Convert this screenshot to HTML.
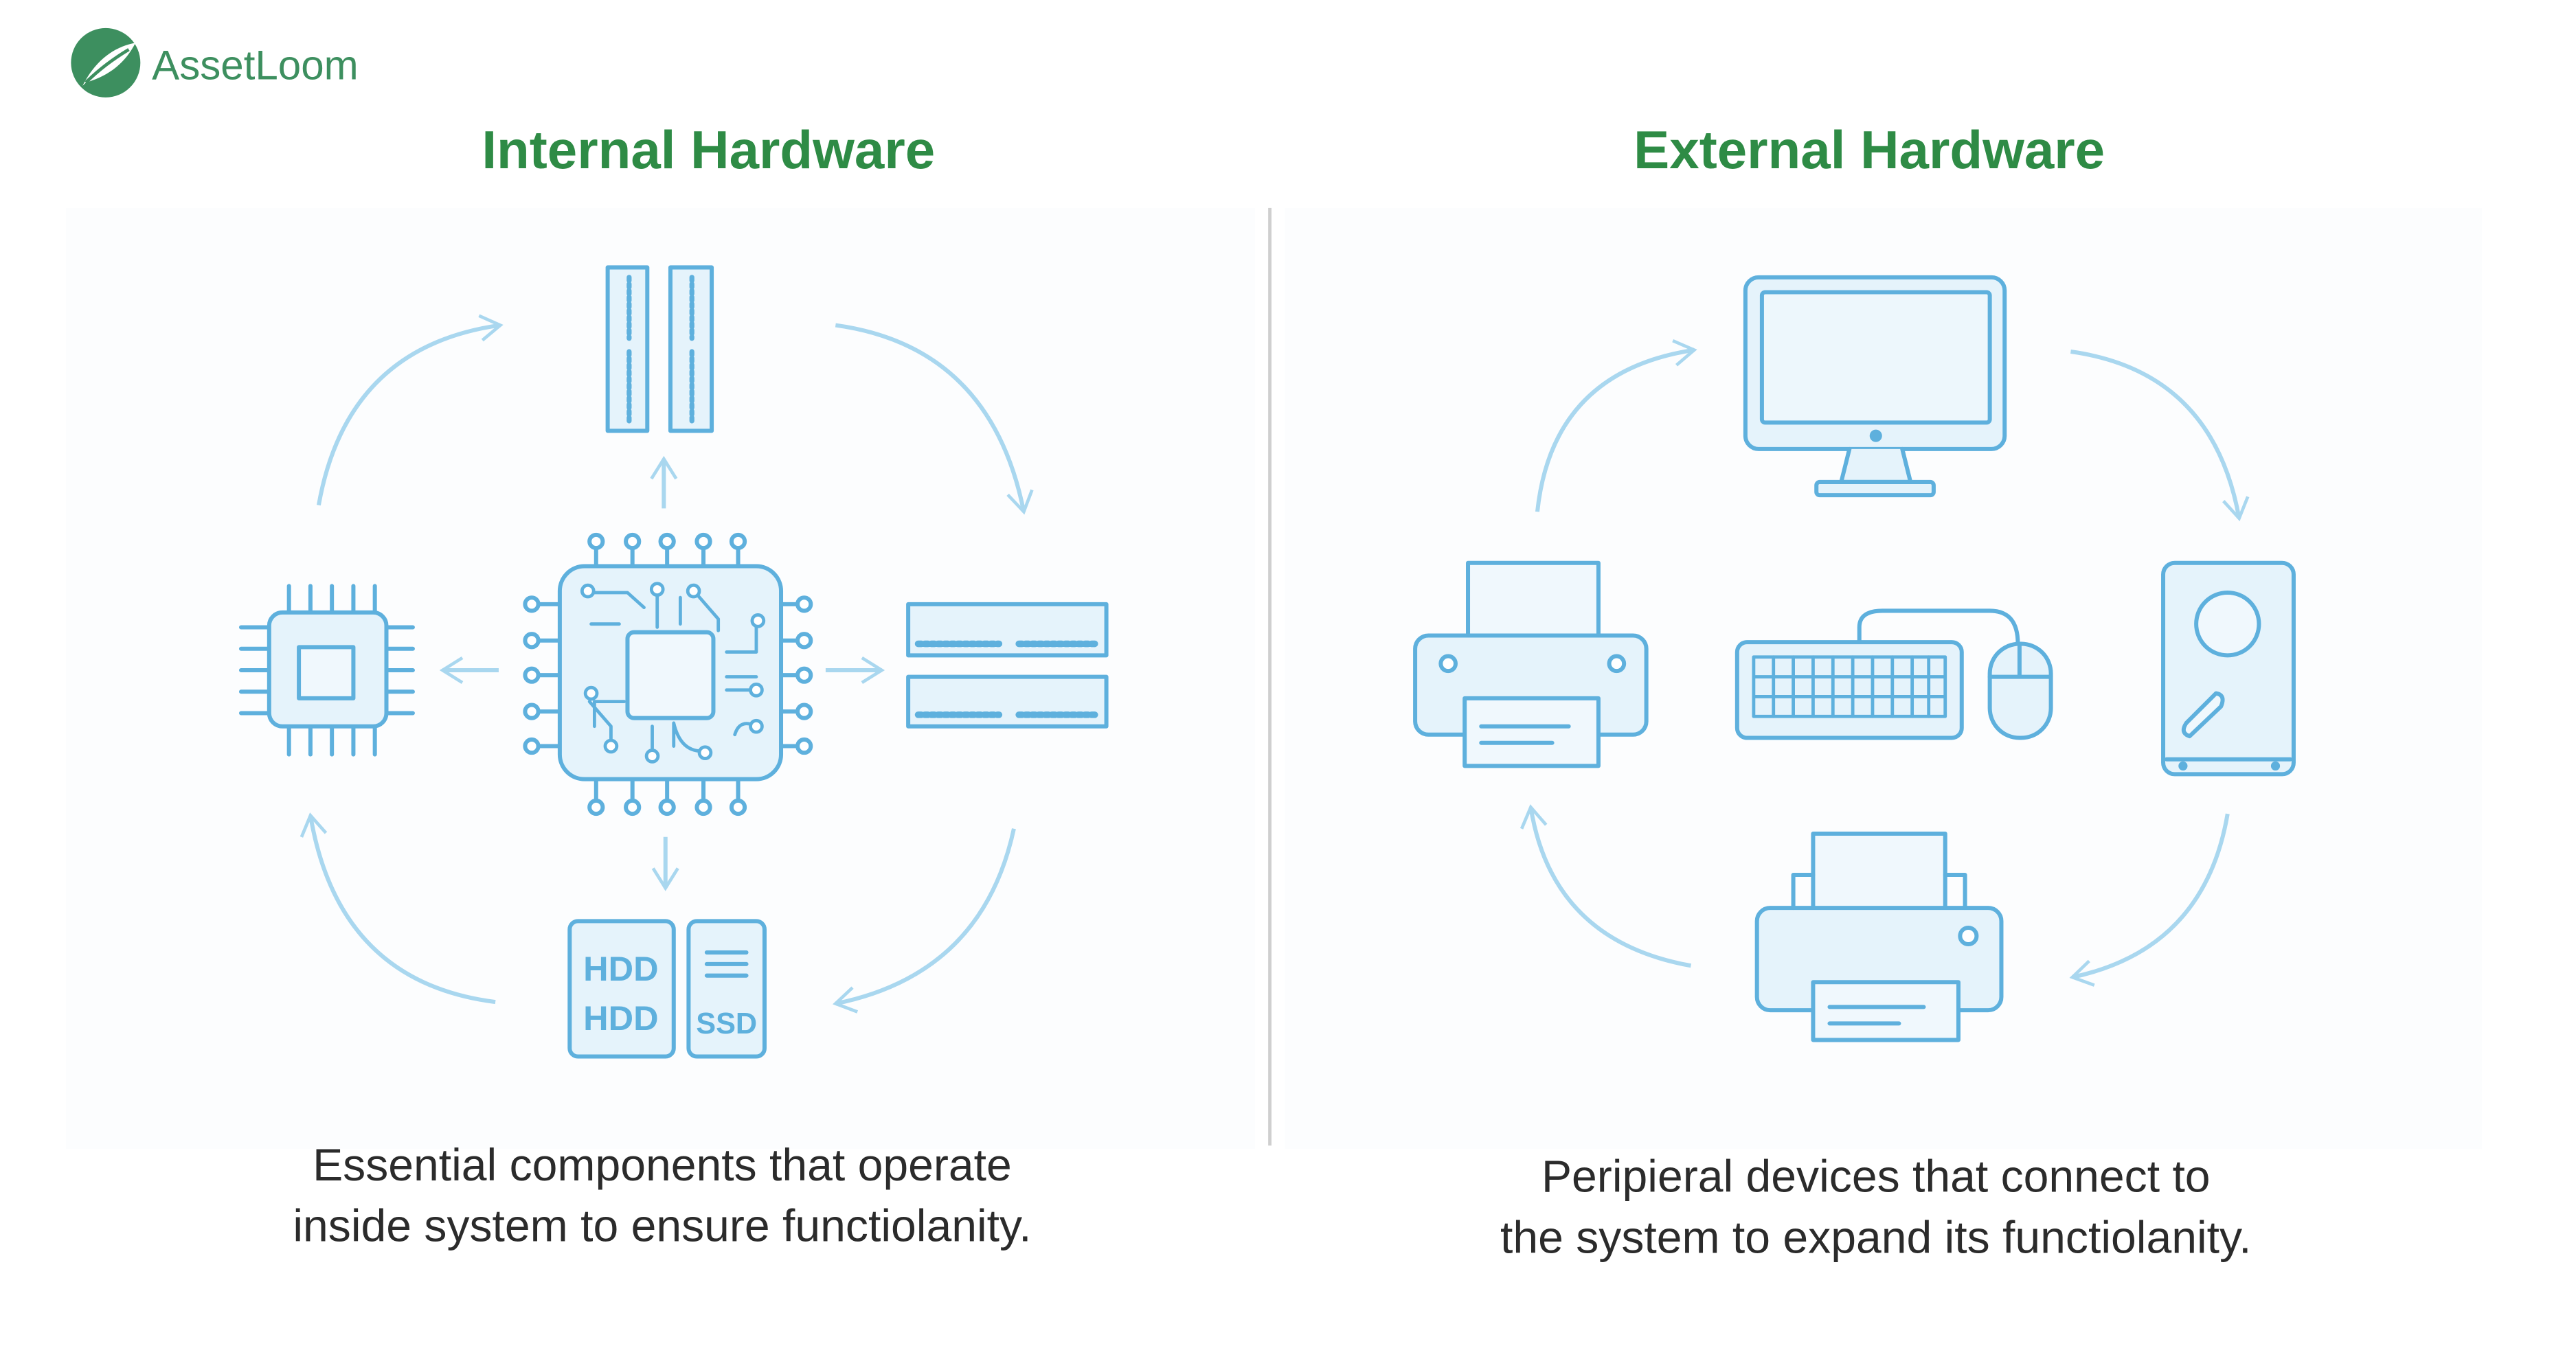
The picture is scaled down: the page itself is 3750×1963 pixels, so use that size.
<!DOCTYPE html>
<html><head><meta charset="utf-8"><style>
html,body{margin:0;padding:0;background:#fff;}
svg{display:block;}
text{font-family:"Liberation Sans",sans-serif;}
</style></head><body>
<svg width="3750" height="1963" viewBox="0 0 1560 816.6" xmlns="http://www.w3.org/2000/svg">
<defs>
<marker id="ah2" viewBox="0 0 12 12" refX="10" refY="6" markerWidth="18" markerHeight="18" orient="auto" markerUnits="userSpaceOnUse">
<path d="M2,1 L10,6 L2,11" fill="none" stroke="#a9d7ef" stroke-width="1.3"/></marker>
</defs>
<rect width="1560" height="817" fill="#fff"/>
<rect x="40" y="126" width="720" height="570" fill="#fcfdfe"/>
<rect x="778" y="126" width="725" height="570" fill="#fcfdfe"/>
<!-- logo -->
<circle cx="64" cy="38" r="21" fill="#3d8f5f"/>
<path d="M50,52 C58,36 70,28 82,26 C76,38 66,46 52,50" fill="#fff"/>
<path d="M52,50 C60,42 68,36 78,30" stroke="#3d8f5f" stroke-width="2" fill="none"/>
<text x="92" y="48" font-size="25" fill="#3d8f5f">AssetLoom</text>
<!-- titles -->
<text x="429" y="102" font-size="32.5" font-weight="bold" fill="#2e8b45" text-anchor="middle">Internal Hardware</text>
<text x="1132" y="102" font-size="32.5" font-weight="bold" fill="#2e8b45" text-anchor="middle">External Hardware</text>
<line x1="769" y1="126" x2="769" y2="694" stroke="#cfcfcf" stroke-width="2"/>
<!-- captions -->
<g font-size="27.5" fill="#2b2b2b" text-anchor="middle">
<text x="401" y="715">Essential components that operate</text>
<text x="401" y="752">inside system to ensure functiolanity.</text>
<text x="1136" y="722">Peripieral devices that connect to</text>
<text x="1136" y="759">the system to expand its functiolanity.</text>
</g>
<!-- curved arrows -->
<g fill="none" stroke="#a9d7ef" stroke-width="2.5" marker-end="url(#ah2)">
<path d="M193,306 Q210,210 303,197"/>
<path d="M506,197 Q600,210 620,310"/>
<path d="M614,502 Q595,590 506,608"/>
<path d="M300,607 Q205,595 188,494"/>
<path d="M931,310 Q940,225 1026,212"/>
<path d="M1254,213 Q1340,225 1356,314"/>
<path d="M1349,493 Q1335,575 1255,592"/>
<path d="M1024,585 Q940,570 927,489"/>
<path d="M402,308 L402,278"/>
<path d="M302,406 L268,406"/>
<path d="M500,406 L534,406"/>
<path d="M403,507 L403,538"/>
</g>
<g fill="#e5f3fb" stroke="#5eb0dd" stroke-width="2.5" stroke-linejoin="round" stroke-linecap="round">
<rect x="368" y="162" width="24" height="99"/><rect x="406" y="162" width="25" height="99"/>
<path d="M381,168 V205 M381,213 V255 M419,168 V205 M419,213 V255" stroke-dasharray="2 2" stroke-width="3"/>
<g fill="none">
<path d="M361,343V330 M383,343V330 M404,343V330 M426,343V330 M447,343V330"/>
<path d="M361,472V486 M383,472V486 M404,472V486 M426,472V486 M447,472V486"/>
<path d="M339,366H325 M339,388H325 M339,409H325 M339,431H325 M339,452H325"/>
<path d="M473,366H484 M473,388H484 M473,409H484 M473,431H484 M473,452H484"/>
</g>
<g fill="#fff">
<circle cx="361" cy="328" r="4"/><circle cx="383" cy="328" r="4"/><circle cx="404" cy="328" r="4"/><circle cx="426" cy="328" r="4"/><circle cx="447" cy="328" r="4"/>
<circle cx="361" cy="489" r="4"/><circle cx="383" cy="489" r="4"/><circle cx="404" cy="489" r="4"/><circle cx="426" cy="489" r="4"/><circle cx="447" cy="489" r="4"/>
<circle cx="322" cy="366" r="4"/><circle cx="322" cy="388" r="4"/><circle cx="322" cy="409" r="4"/><circle cx="322" cy="431" r="4"/><circle cx="322" cy="452" r="4"/>
<circle cx="487" cy="366" r="4"/><circle cx="487" cy="388" r="4"/><circle cx="487" cy="409" r="4"/><circle cx="487" cy="431" r="4"/><circle cx="487" cy="452" r="4"/>
</g>
<rect x="339" y="343" width="134" height="129" rx="15"/>
<rect x="380" y="383" width="52" height="52" rx="4" fill="#f0f8fd"/>
<path d="M357,359 H380 L390,368 M358,378 H375 M360,440 V425 H378 M357,425 L370,440 V450 M398,360 V380 M412,362 V378 M422,360 L435,375 V382 M458,378 V395 H440 M440,410 H458 M440,418 H455 M395,455 V440 M408,452 V438 Q412,455 425,455 M445,445 Q448,435 458,440" fill="none" stroke-width="2"/>
<g fill="#fff" stroke-width="2"><circle cx="356" cy="358" r="3.5"/><circle cx="398" cy="357" r="3.5"/><circle cx="420" cy="358" r="3.5"/><circle cx="459" cy="376" r="3.5"/><circle cx="458" cy="418" r="3.5"/><circle cx="370" cy="452" r="3.5"/><circle cx="395" cy="458" r="3.5"/><circle cx="427" cy="456" r="3.5"/><circle cx="358" cy="420" r="3.5"/><circle cx="458" cy="440" r="3.5"/></g>
<path d="M175,355V371 M188,355V371 M201,355V371 M214,355V371 M227,355V371 M175,440V457 M188,440V457 M201,440V457 M214,440V457 M227,440V457 M146,380H163 M146,393H163 M146,406H163 M146,419H163 M146,432H163 M234,380H250 M234,393H250 M234,406H250 M234,419H250 M234,432H250" fill="none"/>
<rect x="163" y="371" width="71" height="69" rx="8"/>
<rect x="181" y="392" width="33" height="31" fill="#f0f8fd"/>
<rect x="550" y="366" width="120" height="31"/><rect x="550" y="410" width="120" height="30"/>
<path d="M556,390 H605 M617,390 H664 M556,433 H605 M617,433 H664" stroke-dasharray="2 2" stroke-width="4"/>
<rect x="345" y="558" width="63" height="82" rx="5"/>
<rect x="417" y="558" width="46" height="82" rx="5"/>
<path d="M428,577H452 M428,584H452 M428,591H452" fill="none"/>
</g>
<g font-size="21" font-weight="bold" fill="#5eb0dd" text-anchor="middle">
<text x="376" y="594">HDD</text><text x="376" y="624">HDD</text>
<text x="440" y="626" font-size="18">SSD</text>
</g>
<g fill="#e5f3fb" stroke="#5eb0dd" stroke-width="2.5" stroke-linejoin="round" stroke-linecap="round">
<rect x="1057" y="168" width="157" height="104" rx="8"/>
<rect x="1067" y="177" width="138" height="79" rx="2" fill="#edf7fc"/>
<circle cx="1136" cy="264" r="2.5" fill="#5eb0dd"/>
<path d="M1120,272 L1115,292 H1157 L1152,272" />
<rect x="1100" y="292" width="71" height="8" rx="2"/>
<rect x="889" y="341" width="79" height="50" fill="#f0f8fd"/>
<rect x="857" y="385" width="140" height="60" rx="8"/>
<rect x="887" y="423" width="81" height="41" fill="#f0f8fd"/>
<path d="M897,440H950 M897,450H940" fill="none"/>
<circle cx="877" cy="402" r="4.5" fill="#fff"/><circle cx="979" cy="402" r="4.5" fill="#fff"/>
<path d="M1126,389 V380 Q1126,370 1140,370 H1205 Q1222,370 1222,390" fill="none"/>
<rect x="1052" y="389" width="136" height="58" rx="6"/>
<g fill="none" stroke-width="2">
<path d="M1062,398H1178 M1062,410H1178 M1062,422H1178 M1062,434H1178 M1062,398V434 M1178,398V434"/>
<path d="M1074,398V434 M1086,398V434 M1098,398V434 M1110,398V434 M1122,398V434 M1134,398V434 M1146,398V434 M1158,398V434 M1168,398V434"/>
</g>
<rect x="1205" y="390" width="37" height="57" rx="18"/>
<path d="M1223,390 V410 M1205,410 H1242" fill="none"/>
<rect x="1310" y="341" width="79" height="128" rx="7"/>
<circle cx="1349" cy="378" r="19" fill="#f0f8fd"/>
<path d="M1342,420 L1324,438 Q1320,444 1326,446 L1345,428 Q1348,421 1342,420Z" fill="#f0f8fd"/>
<path d="M1312,460 H1387" fill="none"/>
<circle cx="1322" cy="464" r="1.5" fill="#5eb0dd"/><circle cx="1378" cy="464" r="1.5" fill="#5eb0dd"/>
<rect x="1098" y="505" width="80" height="50" fill="#f0f8fd"/>
<rect x="1064" y="550" width="148" height="62" rx="8"/>
<rect x="1098" y="595" width="88" height="35" fill="#f0f8fd"/>
<path d="M1108,610H1165 M1108,620H1150" fill="none"/>
<circle cx="1192" cy="567" r="5" fill="#fff"/>
<path d="M1086,550V530H1098 M1178,530H1190V550" fill="none"/>
</g>
</svg>
</body></html>
